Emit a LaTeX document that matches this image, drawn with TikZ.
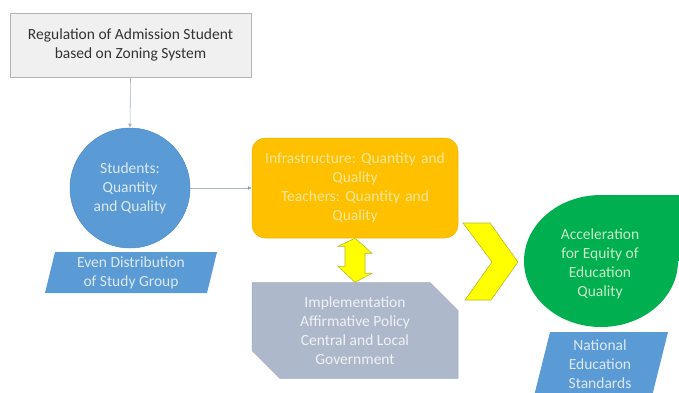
\documentclass[tikz,border=0pt]{standalone}
\usepackage{fontspec}
\setmainfont{Carlito}
\usetikzlibrary{shapes.misc,arrows.meta}
\definecolor{boxgray}{HTML}{F0F0F0}
\definecolor{boxline}{HTML}{B4B4B4}
\definecolor{darktxt}{HTML}{333333}
\definecolor{bluef}{HTML}{5B9BD5}
\definecolor{bluel}{HTML}{4E8AC4}
\definecolor{bluetxt}{HTML}{DCE8F5}
\definecolor{orangef}{HTML}{FFC000}
\definecolor{orangel}{HTML}{F0B400}
\definecolor{orangetxt}{HTML}{FFE79A}
\definecolor{grayf}{HTML}{ADB9CA}
\definecolor{grayl}{HTML}{A0ACBD}
\definecolor{graytxt}{HTML}{EEF1F5}
\definecolor{yelf}{HTML}{FFFF00}
\definecolor{yell}{HTML}{B8B830}
\definecolor{greenf}{HTML}{00B050}
\definecolor{greentxt}{HTML}{C8EBC8}
\definecolor{arrowc}{HTML}{A8B4C4}
\begin{document}
\frenchspacing
\begin{tikzpicture}[x=1pt,y=-1pt,
  txt/.style={font=\fontsize{15.5}{19}\selectfont, align=center, inner sep=0pt},
  conn/.style={draw=arrowc, line width=0.6pt, -{Latex[length=4pt,width=4pt]}},
  yshape/.style={fill=yelf, draw=yell, line width=0.6pt, line join=miter}
]
\useasboundingbox (0,0) rectangle (679,392);

% top box
\node[txt, draw=boxline, fill=boxgray, line width=0.8pt, text=darktxt,
      minimum width=241pt, minimum height=64pt] (reg) at (130.5,45)
  {Regulation of Admission Student\\based on Zoning System};

% students circle
\node[txt, circle, fill=bluef, draw=bluel, line width=0.5pt, text=bluetxt,
      minimum size=120pt] (stu) at (130,188)
  {Students:\\Quantity\\and Quality};

% even distribution parallelogram
\fill[bluef] (45,293) -- (55,252) -- (217,252) -- (207,293) -- cycle;
\node[txt, text=bluetxt] (even) at (131,273) {Even Distribution\\of Study Group};

% orange box
\node[txt, rounded corners=13pt, fill=orangef, draw=orangel, line width=0.5pt,
      text=orangetxt, minimum width=206pt, minimum height=100pt,
      text width=200pt] (infra) at (355,188)
  {Infrastructure: Quantity and\\Quality\\Teachers: Quantity and\\Quality};

% gray chamfered box
\node[txt, chamfered rectangle, chamfered rectangle corners={north east,south west},
      chamfered rectangle xsep=14pt, chamfered rectangle ysep=14pt,
      fill=grayf, draw=grayl, line width=0.5pt, text=graytxt,
      minimum width=206pt, minimum height=85pt] (impl) at (355,330.5)
  {Implementation\\Affirmative Policy\\Central and Local\\Government};

% double arrow between infra and impl
\path (infra.south) coordinate (dt) (impl.north) coordinate (db);
\draw[yshape] (dt) -- ++(17,15) -- ++(-7,0) -- ++(0,20) -- ++(7,0)
  -- (db) -- ++(-17,-16) -- ++(7,0) -- ++(0,-20) -- ++(-7,0) -- cycle;

% chevron
\draw[yshape] (463,223) -- (490,223) -- (518,262) -- (491,300) -- (465,300) -- (492,262) -- cycle;

% green teardrop
\fill[greenf] (524,261) arc[start angle=180, end angle=270, x radius=77, y radius=66]
  -- (684,195) -- (684,261) -- (678,261)
  arc[start angle=0, end angle=180, x radius=77, y radius=66] -- cycle;
\node[txt, text=greentxt] (acc) at (600,264)
  {Acceleration\\for Equity of\\Education\\Quality};

% national standards parallelogram
\fill[bluef] (534,396) -- (550,332) -- (668,332) -- (652,396) -- cycle;
\node[txt, text=bluetxt] (nat) at (600,364) {National\\Education\\Standards};

% connectors
\draw[conn] (reg.south) -- (stu.north);
\draw[draw=arrowc, line width=0.6pt, -{Latex[length=4pt,width=4pt,fill=darktxt]}] (stu.east) -- (infra.west);
\end{tikzpicture}
\end{document}
